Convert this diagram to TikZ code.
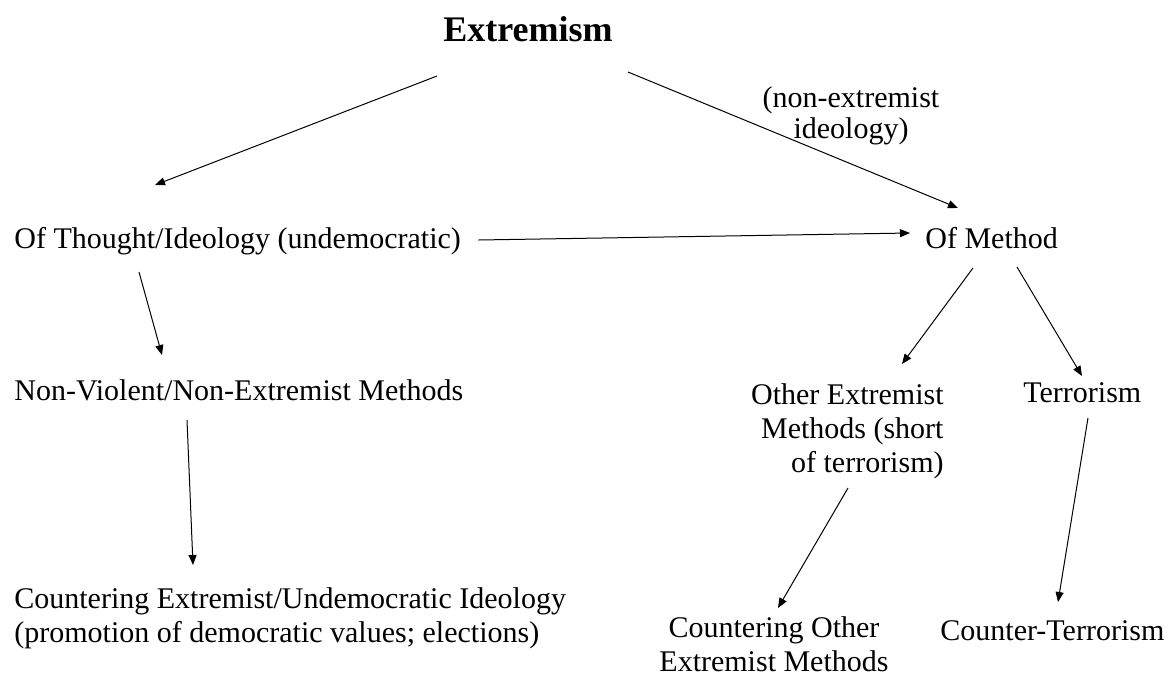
\documentclass[tikz,border=0pt]{standalone}
\usepackage{fontspec}
\setmainfont{Liberation Serif}
\usepackage{tikz}
\usetikzlibrary{arrows.meta}

\begin{document}
\begin{tikzpicture}[
      x=0.5pt, y=-0.5pt,
      lbl/.style={inner sep=0pt, font=\fontsize{15}{17}\selectfont},
      arr/.style={-{Triangle[length=5pt, width=4pt]}, line width=0.5pt}
    ]
      \useasboundingbox (0,0) rectangle (1175,676);
      \node[lbl, anchor=base, font=\fontsize{18}{20}\selectfont\bfseries] (extrem) at (528,41) {Extremism};
      \node[lbl, anchor=base, align=center, font=\fontsize{15}{15.5}\selectfont] (nonext) at (851,138) {(non-extremist\\ideology)};
      \node[lbl, anchor=base west] (thought) at (14,248) {Of Thought/Ideology (undemocratic)};
      \node[lbl, anchor=base west] (method)  at (925,248) {Of Method};
      \node[lbl, anchor=base west] (nonviol) at (14,400) {Non-Violent/Non-Extremist Methods};
      \node[lbl, anchor=base east, align=right] (othermeth) at (944,472) {Other Extremist\\Methods (short\\of terrorism)};
      \node[lbl, anchor=base west] (terror)  at (1023,402) {Terrorism};
      \node[lbl, anchor=base west, align=left] (cntideo) at (14,642) {Countering Extremist/Undemocratic Ideology\\(promotion of democratic values; elections)};
      \node[lbl, anchor=base, align=center] (cntother) at (774,671) {Countering Other\\Extremist Methods};
      \node[lbl, anchor=base west] (cntterror) at (940,640) {Counter-Terrorism};
      % arrows between the nodes
      \draw[arr] ([shift={(-91,35)}]extrem.base) -- ([shift={(141,-63)}]thought.base west);
      \draw[arr] ([shift={(100,31)}]extrem.base) -- ([shift={(33,-40)}]method.base west);
      \draw[arr] ([shift={(17,-8)}]thought.base east) -- ([shift={(-15,-15)}]method.base west);
      \draw[arr] ([shift={(125,24)}]thought.base west) -- ([shift={(148,-45)}]nonviol.base west);
      \draw[arr] ([shift={(173,20)}]nonviol.base west) -- ([shift={(179,-77)}]cntideo.base west);
      \draw[arr] ([shift={(48,20)}]method.base west) -- ([shift={(-42,-108)}]othermeth.base east);
      \draw[arr] ([shift={(92,19)}]method.base west) -- ([shift={(59,-26)}]terror.base west);
      \draw[arr] ([shift={(-96,16)}]othermeth.base east) -- ([shift={(4,-63)}]cntother.base);
      \draw[arr] ([shift={(65,16)}]terror.base west) -- ([shift={(118,-38)}]cntterror.base west);
    \end{tikzpicture}
\end{document}
